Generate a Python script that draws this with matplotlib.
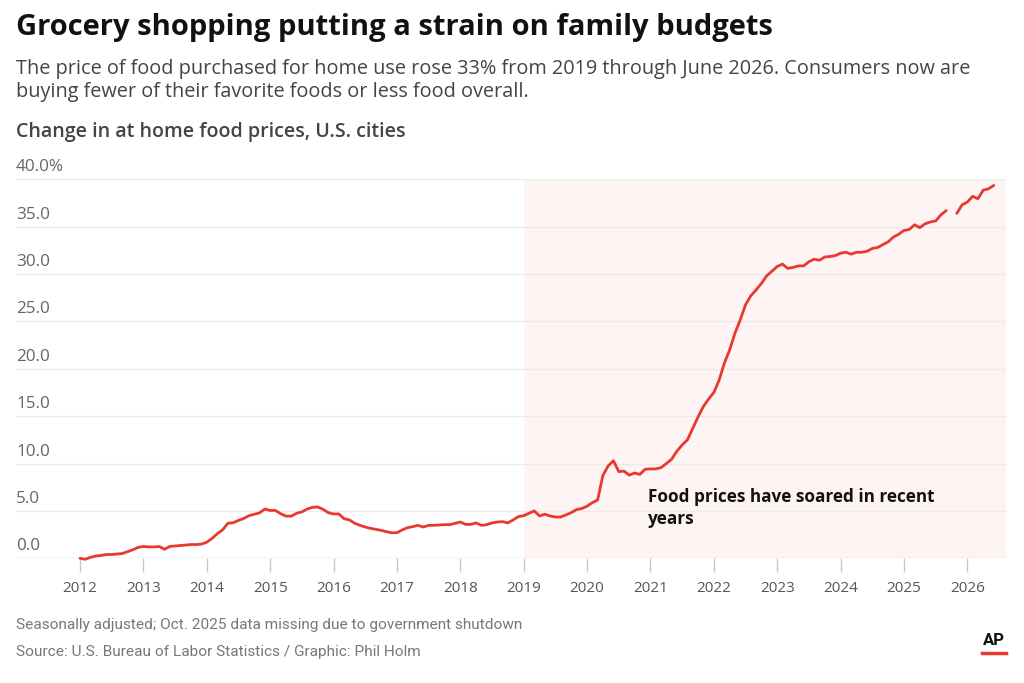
import matplotlib
matplotlib.use("Agg")
import matplotlib.pyplot as plt
import matplotlib.transforms as mtransforms
from matplotlib import font_manager
import numpy as np

# ---------------- data (monthly % change since Jan 2012) ----------------
years = list(range(2012, 2027))
v2012 = [0.0, -0.1, 0.1, 0.25, 0.3, 0.4, 0.4, 0.45, 0.5, 0.7, 0.9, 1.15]
v2013 = [1.25, 1.2, 1.2, 1.25, 0.95, 1.25, 1.3, 1.35, 1.4, 1.45, 1.45, 1.5]
v2014 = [1.7, 2.1, 2.6, 3.0, 3.7, 3.75, 4.0, 4.2, 4.5, 4.65, 4.8, 5.2]
v2015 = [5.05, 5.05, 4.7, 4.45, 4.45, 4.75, 4.9, 5.2, 5.38, 5.42, 5.17, 4.82]
v2016 = [4.68, 4.68, 4.18, 4.05, 3.7, 3.48, 3.3, 3.16, 3.06, 2.95, 2.81, 2.7]
v2017 = [2.7, 2.99, 3.23, 3.34, 3.48, 3.3, 3.48, 3.48, 3.51, 3.55, 3.55, 3.69]
v2018 = [3.83, 3.58, 3.58, 3.73, 3.48, 3.55, 3.73, 3.83, 3.87, 3.73, 4.05, 4.4]
v2019 = [4.5, 4.75, 5.0, 4.47, 4.65, 4.47, 4.36, 4.36, 4.58, 4.82, 5.14, 5.25]
v2020 = [5.5, 5.87, 6.15, 8.75, 9.75, 10.3, 9.15, 9.2, 8.78, 9.0, 8.86, 9.4]
v2021 = [9.43, 9.43, 9.57, 10.0, 10.45, 11.3, 11.96, 12.5, 13.7, 14.9, 16.0, 16.8]
v2022 = [17.5, 18.8, 20.6, 22.0, 23.75, 25.16, 26.75, 27.7, 28.33, 29.0, 29.8, 30.3]
v2023 = [30.8, 31.05, 30.6, 30.7, 30.86, 30.86, 31.3, 31.57, 31.46, 31.8, 31.85, 31.95]
v2024 = [32.2, 32.3, 32.1, 32.3, 32.3, 32.4, 32.7, 32.8, 33.1, 33.4, 33.9, 34.2]
v2025 = [34.6, 34.7, 35.2, 34.9, 35.3, 35.5, 35.6, 36.25, 36.7, None, 36.4, 37.3]
v2026 = [37.6, 38.2, 37.95, 38.85, 39.0, 39.35]
series = [v2012, v2013, v2014, v2015, v2016, v2017, v2018, v2019,
          v2020, v2021, v2022, v2023, v2024, v2025, v2026]

y_ticks = [0, 5, 10, 15, 20, 25, 30, 35, 40]
y_labels = ["0.0", "5.0", "10.0", "15.0", "20.0", "25.0", "30.0", "35.0", "40.0%"]
x_ticks = list(range(2012, 2027))
shade_start = 2019

title = "Grocery shopping putting a strain on family budgets"
subtitle_lines = ["The price of food purchased for home use rose 33% from 2019 through June 2026. Consumers now are",
                  "buying fewer of their favorite foods or less food overall."]
chart_label = "Change in at home food prices, U.S. cities"
annotation_lines = ["Food prices have soared in recent", "years"]
note = "Seasonally adjusted; Oct. 2025 data missing due to government shutdown"
source = "Source: U.S. Bureau of Labor Statistics / Graphic: Phil Holm"

# ---------------- build series ----------------
xs, ys = [], []
for yr, vals in zip(years, series):
    for m, v in enumerate(vals):
        xs.append(yr + m / 12.0)
        ys.append(np.nan if v is None else v)
xs = np.array(xs)
ys = np.array(ys, dtype=float)

# ---------------- fonts ----------------
avail = {f.name for f in font_manager.fontManager.ttflist}
main_font = "Open Sans" if "Open Sans" in avail else "DejaVu Sans"
narrow_font = "Liberation Sans Narrow" if "Liberation Sans Narrow" in avail else "Roboto"
plt.rcParams["font.family"] = [main_font, "DejaVu Sans"]

W, H = 1024, 683
fig = plt.figure(figsize=(W / 100, H / 100), dpi=100)
fig.patch.set_facecolor("white")

left_px, right_px = 16, 1006
bottom_px, top_px = 558.3, 179.3
ax = fig.add_axes([left_px / W, 1 - bottom_px / H,
                   (right_px - left_px) / W, (bottom_px - top_px) / H])
ax.set_xlim(2010.99, 2026.61)
ax.set_ylim(0, 40)
ax.set_facecolor("none")

# shading
ax.axvspan(shade_start, 2026.61, ymin=0, ymax=1, color="#fdf4f3", zorder=0, lw=0)

# gridlines
for t in y_ticks:
    ax.axhline(t, color="#cfcfcf" if t == 0 else "#ebebeb", lw=1.0 if t == 0 else 0.9, zorder=1)

# y labels above gridlines
trans = mtransforms.blended_transform_factory(ax.transAxes, ax.transData)
trans_off = mtransforms.offset_copy(trans, fig=fig, x=0, y=4, units="dots")
for t, lab in zip(y_ticks, y_labels):
    ax.text(0, t, lab, transform=trans_off, ha="left", va="bottom",
            fontsize=12.3, color="#666666")

# line
ax.plot(xs, ys, color="#e8392f", lw=2.0, zorder=3, clip_on=False,
        solid_joinstyle="round", solid_capstyle="round")

# annotation (two lines, baselines placed in data units)
for lab, yv in zip(annotation_lines, [5.98, 3.67]):
    ax.text(2020.96, yv, lab, fontsize=12.3, fontweight="bold", color="#111111",
            ha="left", va="baseline", zorder=4)

# axes styling
for s in ax.spines.values():
    s.set_visible(False)
ax.set_yticks([])
ax.set_xticks(x_ticks)
ax.set_xticklabels([str(x) for x in x_ticks], fontsize=11, color="#555555")
ax.tick_params(axis="x", length=10, width=1, color="#c8c8c8", pad=6)

# header texts
fig.text(16 / W, 1 - 35 / H, title, fontsize=21, fontweight="bold", color="#111111",
         ha="left", va="baseline")
for lab, ypx in zip(subtitle_lines, [74, 97]):
    fig.text(16 / W, 1 - ypx / H, lab, fontsize=14.3, color="#444444",
             ha="left", va="baseline")
fig.text(16 / W, 1 - 136.5 / H, chart_label, fontsize=14.1, fontweight="semibold",
         color="#444444", ha="left", va="baseline")

# footer
fig.text(16 / W, 1 - 629 / H, note, fontsize=11.1, color="#777777", ha="left",
         va="baseline", family=[narrow_font, "DejaVu Sans"])
fig.text(16 / W, 1 - 656 / H, source, fontsize=11.1, color="#777777", ha="left",
         va="baseline", family=[narrow_font, "DejaVu Sans"])

# AP logo
fig.text(994 / W, 1 - 645 / H, "AP", fontsize=12, fontweight="bold", color="#111111",
         ha="center", va="baseline", family=[narrow_font, "DejaVu Sans"])
fig.add_artist(plt.Line2D([982 / W, 1006 / W], [1 - 653 / H, 1 - 653 / H],
                          color="#e8392f", lw=2.5))

fig.savefig("out.png", dpi=100, facecolor="white")
